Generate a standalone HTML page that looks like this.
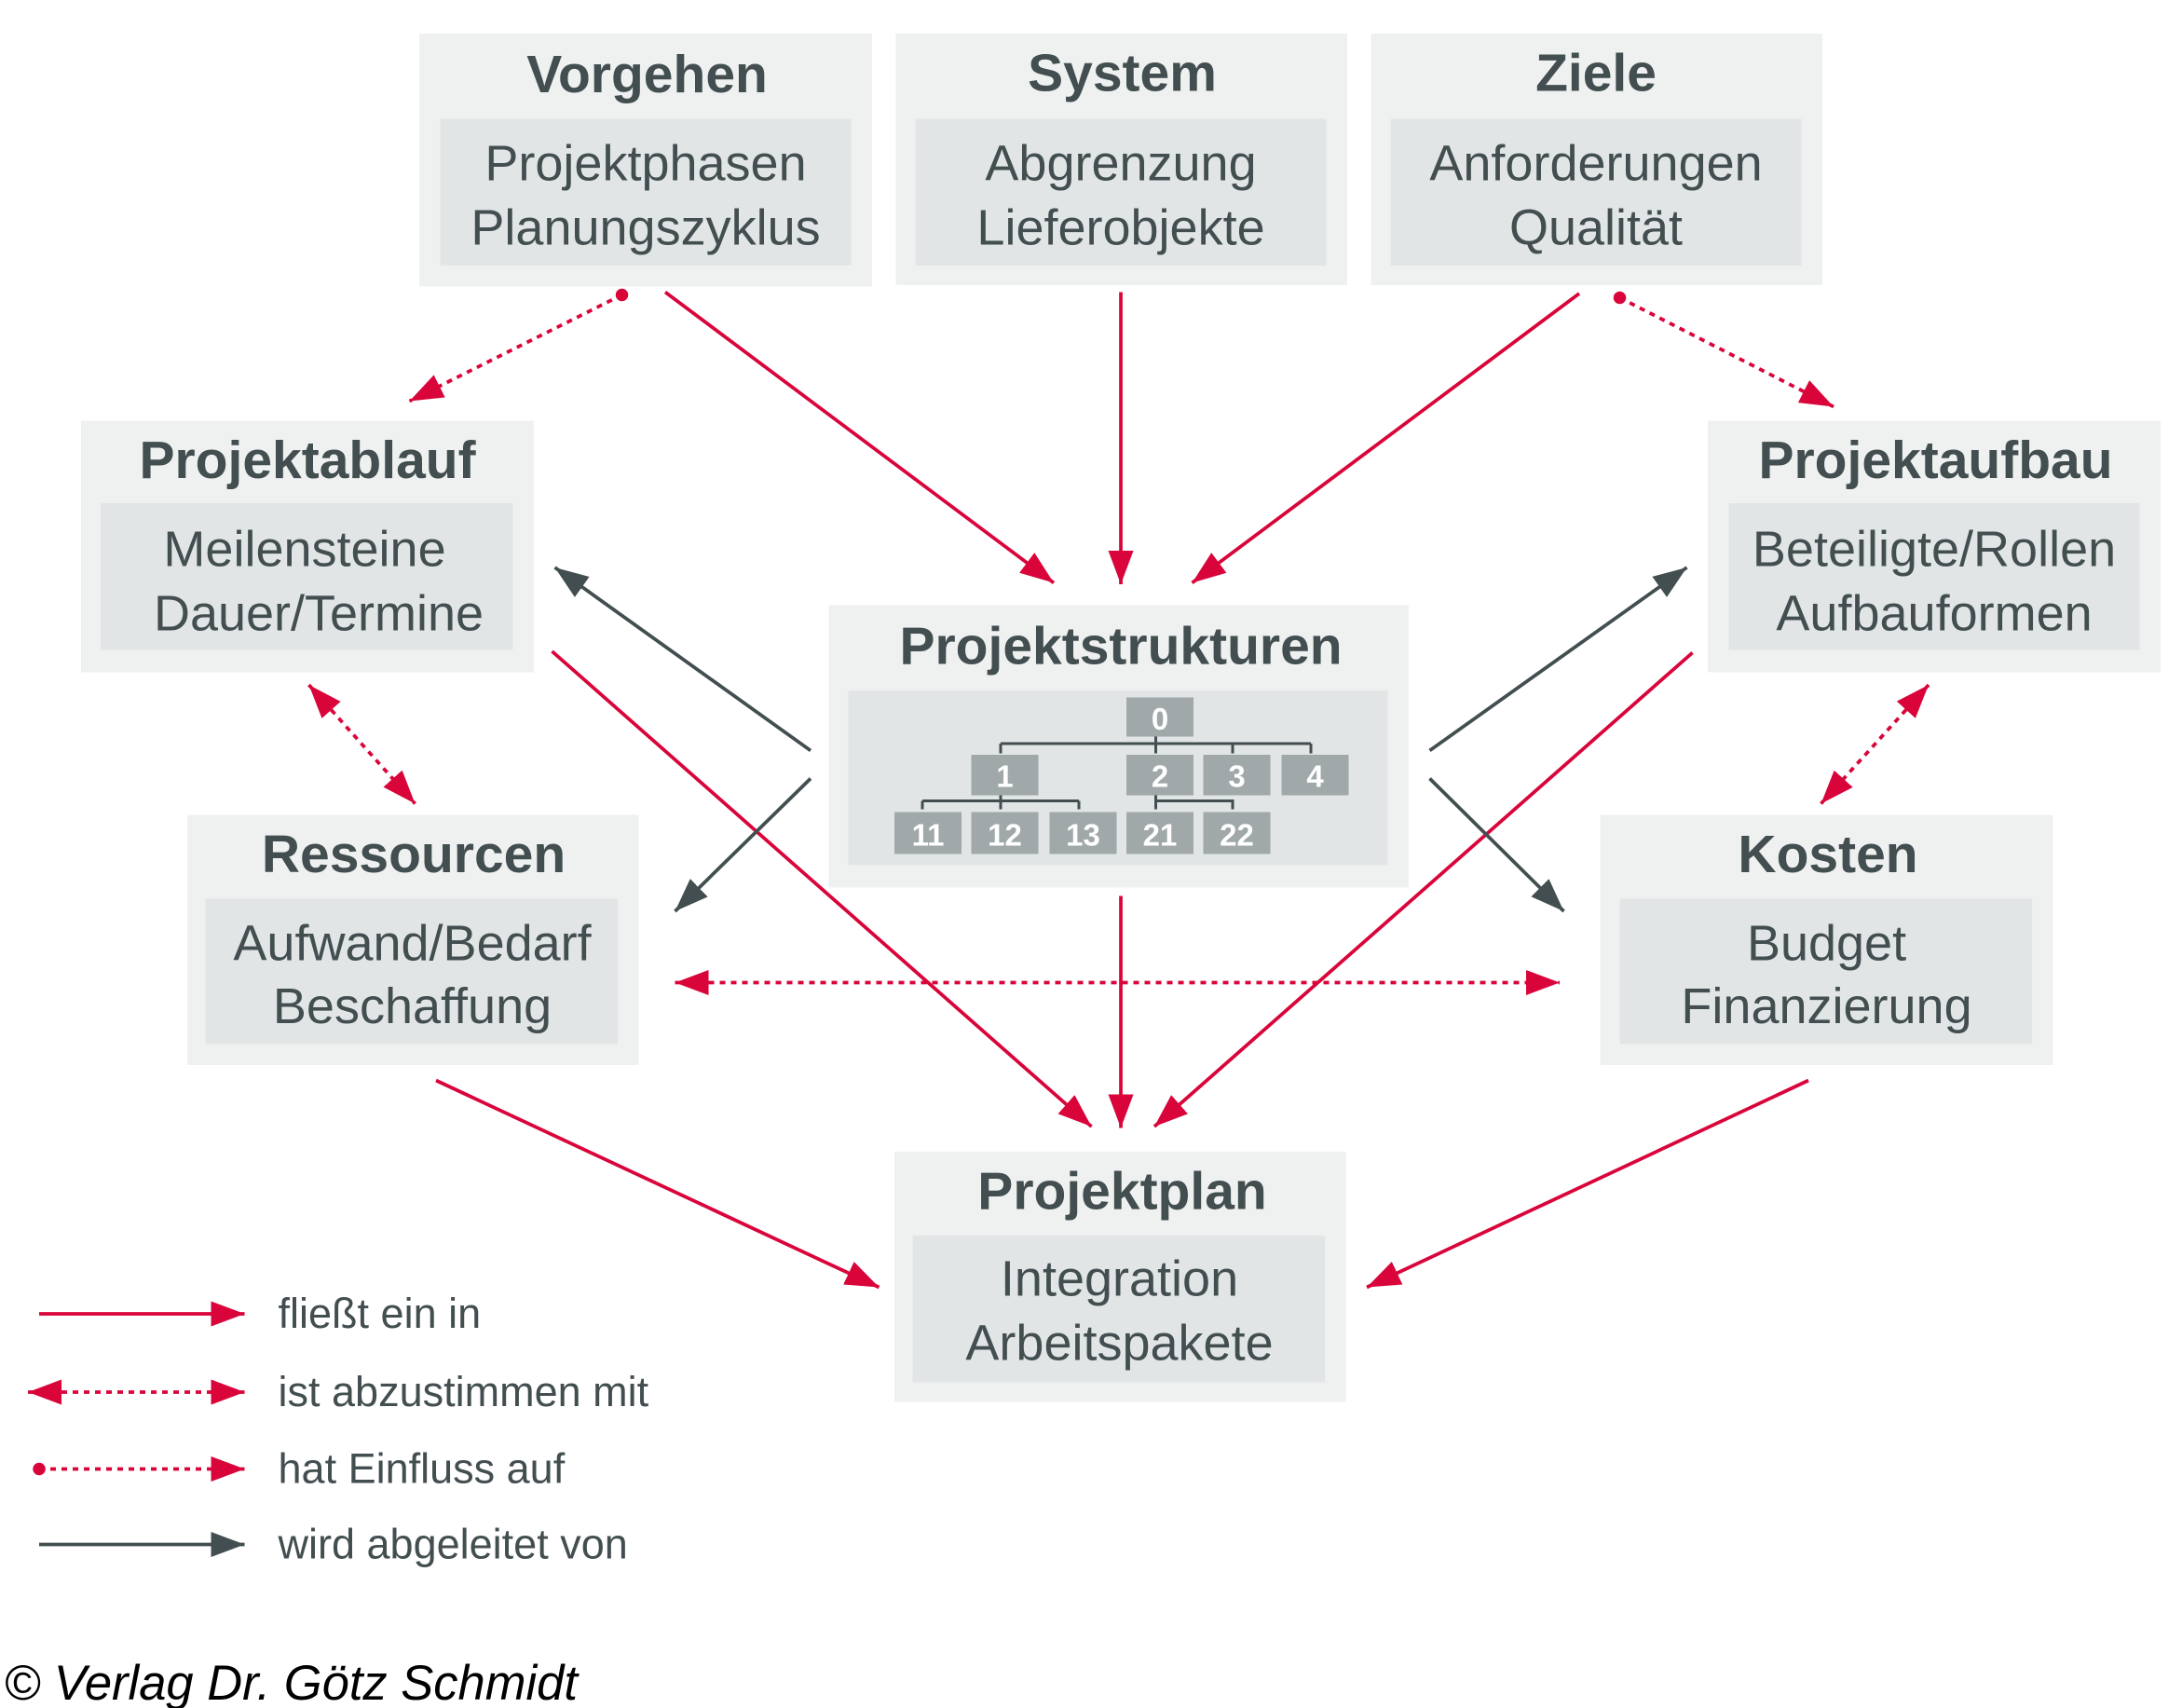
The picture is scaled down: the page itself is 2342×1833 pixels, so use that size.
<!DOCTYPE html>
<html><head><meta charset="utf-8"><style>
html,body{margin:0;padding:0;background:#fff}
svg{display:block}
text{font-family:"Liberation Sans",Arial,sans-serif;fill:#434e50}
.t{font-weight:bold;font-size:38px}
.s{font-size:36px}
.n{font-weight:bold;font-size:22px;fill:#fff}
.l{font-size:30px}
</style></head><body>
<svg width="2342" height="1833" viewBox="0 0 1561.3 1222" xmlns="http://www.w3.org/2000/svg">
<defs>
<marker id="ar" markerUnits="userSpaceOnUse" markerWidth="26" markerHeight="20" refX="24" refY="9" orient="auto"><path d="M0,0 L24,9 L0,18 z" fill="#d9043a"/></marker>
<marker id="as" markerUnits="userSpaceOnUse" markerWidth="26" markerHeight="20" refX="0" refY="9" orient="auto"><path d="M24,0 L0,9 L24,18 z" fill="#d9043a"/></marker>
<marker id="ad" markerUnits="userSpaceOnUse" markerWidth="26" markerHeight="20" refX="24" refY="9" orient="auto"><path d="M0,0 L24,9 L0,18 z" fill="#434e50"/></marker>
</defs>
<g fill="#eff1f0">
<rect x="300" y="24" width="324" height="181"/>
<rect x="641" y="24" width="323" height="180"/>
<rect x="981" y="24" width="323" height="180"/>
<rect x="58" y="301" width="324" height="180"/>
<rect x="1222" y="301" width="324" height="180"/>
<rect x="134" y="583" width="323" height="179"/>
<rect x="1145" y="583" width="324" height="179"/>
<rect x="593" y="433" width="415" height="202"/>
<rect x="640" y="824" width="323" height="179"/>
</g>
<g fill="#e1e5e6">
<rect x="315" y="85" width="294" height="105"/>
<rect x="655" y="85" width="294" height="105"/>
<rect x="995" y="85" width="294" height="105"/>
<rect x="72" y="360" width="295" height="105"/>
<rect x="1237" y="360" width="294" height="105"/>
<rect x="147" y="643" width="295" height="104"/>
<rect x="1159" y="643" width="295" height="104"/>
<rect x="607" y="494" width="386" height="125"/>
<rect x="653" y="884" width="295" height="105"/>
</g>
<g text-anchor="middle">
<text class="t" x="463" y="66">Vorgehen</text>
<text class="s" x="462" y="129">Projektphasen</text>
<text class="s" x="462" y="175">Planungszyklus</text>
<text class="t" x="803" y="65">System</text>
<text class="s" x="802" y="129">Abgrenzung</text>
<text class="s" x="802" y="175">Lieferobjekte</text>
<text class="t" x="1142" y="65">Ziele</text>
<text class="s" x="1142" y="129">Anforderungen</text>
<text class="s" x="1142" y="175">Qualität</text>
<text class="t" x="220" y="342">Projektablauf</text>
<text class="s" x="218" y="405">Meilensteine</text>
<text class="s" x="228" y="451">Dauer/Termine</text>
<text class="t" x="1385" y="342">Projektaufbau</text>
<text class="s" x="1384" y="405">Beteiligte/Rollen</text>
<text class="s" x="1384" y="451">Aufbauformen</text>
<text class="t" x="296" y="624">Ressourcen</text>
<text class="s" x="295" y="687">Aufwand/Bedarf</text>
<text class="s" x="295" y="732">Beschaffung</text>
<text class="t" x="1308" y="624">Kosten</text>
<text class="s" x="1307" y="687">Budget</text>
<text class="s" x="1307" y="732">Finanzierung</text>
<text class="t" x="802" y="475">Projektstrukturen</text>
<text class="t" x="803" y="865">Projektplan</text>
<text class="s" x="801" y="927">Integration</text>
<text class="s" x="801" y="973">Arbeitspakete</text>
</g>
<g stroke="#434e50" stroke-width="2" fill="none">
<path d="M827,526 V532 M716,532 H938 M716,532 V539 M827,532 V539 M882,532 V539 M938,532 V539"/>
<path d="M716,567 V573 M660,573 H772 M660,573 V579 M716,573 V579 M772,573 V579"/>
<path d="M827,567 V579 M827,573 H882 V579"/>
</g>
<g fill="#a0a8aa">
<rect x="806" y="499" width="48" height="28"/>
<rect x="695" y="540" width="48" height="29"/>
<rect x="806" y="540" width="48" height="29"/>
<rect x="861" y="540" width="48" height="29"/>
<rect x="917" y="540" width="48" height="29"/>
<rect x="640" y="581" width="48" height="30"/>
<rect x="695" y="581" width="48" height="30"/>
<rect x="751" y="581" width="48" height="30"/>
<rect x="806" y="581" width="48" height="30"/>
<rect x="861" y="581" width="48" height="30"/>
</g>
<g text-anchor="middle">
<text class="n" x="830" y="522">0</text>
<text class="n" x="719" y="563">1</text>
<text class="n" x="830" y="563">2</text>
<text class="n" x="885" y="563">3</text>
<text class="n" x="941" y="563">4</text>
<text class="n" x="664" y="605">11</text>
<text class="n" x="719" y="605">12</text>
<text class="n" x="775" y="605">13</text>
<text class="n" x="830" y="605">21</text>
<text class="n" x="885" y="605">22</text>
</g>
<g stroke="#d9043a" stroke-width="2.5" fill="none">
<line x1="476" y1="209" x2="754" y2="417" marker-end="url(#ar)"/>
<line x1="802" y1="209" x2="802" y2="418" marker-end="url(#ar)"/>
<line x1="1130" y1="210" x2="853" y2="417" marker-end="url(#ar)"/>
<line x1="395" y1="466" x2="781" y2="806" marker-end="url(#ar)"/>
<line x1="1211" y1="467" x2="826" y2="806" marker-end="url(#ar)"/>
<line x1="802" y1="641" x2="802" y2="807" marker-end="url(#ar)"/>
<line x1="312" y1="773" x2="629" y2="921" marker-end="url(#ar)"/>
<line x1="1294" y1="773" x2="978" y2="921" marker-end="url(#ar)"/>
<line x1="28" y1="940" x2="175" y2="940" marker-end="url(#ar)"/>
</g>
<g stroke="#d9043a" stroke-width="2.5" fill="none" stroke-dasharray="4 4">
<line x1="445" y1="211" x2="293" y2="287" marker-end="url(#ar)"/>
<line x1="1159" y1="213" x2="1312" y2="291" marker-end="url(#ar)"/>
<line x1="221" y1="490" x2="297" y2="575" marker-start="url(#as)" marker-end="url(#ar)"/>
<line x1="1380" y1="490" x2="1303" y2="575" marker-start="url(#as)" marker-end="url(#ar)"/>
<line x1="483" y1="703" x2="1116" y2="703" marker-start="url(#as)" marker-end="url(#ar)"/>
<line x1="20" y1="996" x2="175" y2="996" marker-start="url(#as)" marker-end="url(#ar)"/>
<line x1="28" y1="1051" x2="175" y2="1051" marker-end="url(#ar)"/>
</g>
<g fill="#d9043a">
<circle cx="445" cy="211" r="4.5"/>
<circle cx="1159" cy="213" r="4.5"/>
<circle cx="28" cy="1051" r="4.5"/>
</g>
<g stroke="#434e50" stroke-width="2.5" fill="none">
<line x1="580" y1="537" x2="397" y2="406" marker-end="url(#ad)"/>
<line x1="580" y1="557" x2="483" y2="652" marker-end="url(#ad)"/>
<line x1="1023" y1="537" x2="1207" y2="406" marker-end="url(#ad)"/>
<line x1="1023" y1="557" x2="1119" y2="652" marker-end="url(#ad)"/>
<line x1="28" y1="1105" x2="175" y2="1105" marker-end="url(#ad)"/>
</g>
<text class="l" x="199" y="950">fließt ein in</text>
<text class="l" x="199" y="1006">ist abzustimmen mit</text>
<text class="l" x="199" y="1061">hat Einfluss auf</text>
<text class="l" x="199" y="1115">wird abgeleitet von</text>
<text x="3" y="1216" style="font-size:35px;font-style:italic;fill:#000">© Verlag Dr. Götz Schmidt</text>
</svg>
</body></html>
